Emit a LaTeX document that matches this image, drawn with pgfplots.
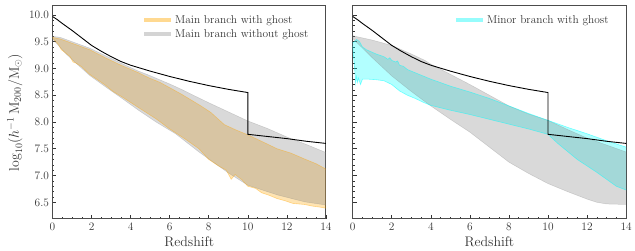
\documentclass[border=0pt]{standalone}
\usepackage{fontspec}
\usepackage{pgfplots}
\pgfplotsset{compat=1.18}
\usepgfplotslibrary{fillbetween}

\definecolor{mplorange}{RGB}{255,165,0}
\definecolor{mplgray}{RGB}{128,128,128}
\definecolor{mplcyan}{RGB}{0,255,255}
\definecolor{legorange}{RGB}{255,217,145}
\definecolor{leggray}{RGB}{212,212,212}
\definecolor{legcyan}{RGB}{150,252,252}

\begin{document}
\begin{tikzpicture}
\pgfplotsset{
  myaxis/.style={
    scale only axis, width=276pt, height=215pt,
    anchor=south west,
    xmin=0, xmax=14, ymin=6.19, ymax=10.167,
    xtick={0,2,...,14}, minor x tick num=3,
    ytick={6.5,7,7.5,8,8.5,9,9.5,10}, minor y tick num=4,
    xtick pos=left, ytick pos=left,
    tick align=inside,
    major tick length=4pt, minor tick length=2pt,
    every tick/.style={black!80, line width=0.6pt},
    axis line style={black!70, line width=1pt},
    tick label style={font=\fontsize{11.5}{13}\selectfont, text=black!80},
    label style={font=\fontsize{14}{16}\selectfont, text=black!80},
    xlabel={Redshift},
    /pgf/number format/assume math mode=true,
    legend style={draw=none, fill=none, font=\fontsize{11.5}{13}\selectfont, text=black!80,
      at={(axis description cs:0.955,0.975)}, anchor=north east, row sep=1pt},
    legend cell align=left,
    legend image code/.code={\draw[##1] (0pt,0pt) -- (27pt,0pt);},
  },
}
% ---------------- left panel ----------------
\begin{axis}[myaxis, at={(53pt,32pt)},
  yticklabels={6.5,7.0,7.5,8.0,8.5,9.0,9.5,10.0},
  ylabel={$\log_{10}(h^{-1}\,\mathrm{M}_{200}/\mathrm{M}_{\odot})$}]
\addlegendimage{legorange, line width=4pt}
\addlegendentry{Main branch with ghost}
\addlegendimage{leggray, line width=4pt}
\addlegendentry{Main branch without ghost}

\addplot[forget plot, name path=OU, draw=none] coordinates {
(0,9.58)(0.4,9.55)(1,9.47)(1.9,9.35)(2.7,9.2)(3.5,9.06)(4.4,8.92)(4.9,8.83)(5.5,8.74)(6.6,8.52)(7.6,8.3)(8.1,8.18)(8.8,7.95)(9.4,7.85)(10,7.76)(10.7,7.64)(11.5,7.5)(12.2,7.42)(12.9,7.31)(13.5,7.22)(14,7.12)};
\addplot[forget plot, name path=OL, draw=none] coordinates {
(0,9.57)(0.3,9.45)(0.45,9.35)(0.7,9.28)(0.9,9.22)(1.05,9.12)(1.2,9.1)(1.5,9.03)(1.9,8.89)(2.7,8.69)(3.1,8.57)(3.6,8.46)(4.4,8.27)(5.3,8.06)(6,7.87)(6.8,7.68)(7.5,7.5)(8,7.3)(8.5,7.18)(8.9,7.1)(9.15,6.93)(9.35,7.02)(9.7,6.92)(10,6.8)(10.4,6.76)(10.7,6.68)(11.1,6.63)(11.5,6.57)(11.9,6.53)(12.3,6.48)(12.9,6.46)(13.3,6.43)(13.7,6.41)(14,6.39)};
\addplot[forget plot, fill=mplorange, fill opacity=0.3, draw=none] fill between[of=OU and OL];

\addplot[forget plot, name path=GU, draw=mplgray, draw opacity=0.3, line width=0.5pt] coordinates {
(0,9.6)(0.4,9.58)(1,9.5)(1.9,9.38)(2.7,9.24)(3.5,9.1)(4.4,8.95)(4.9,8.88)(6,8.71)(6.6,8.61)(7.6,8.43)(8,8.36)(9,8.19)(10,8.02)(11,7.88)(12,7.72)(13,7.58)(14,7.43)};
\addplot[forget plot, name path=GL, draw=mplgray, draw opacity=0.3, line width=0.5pt] coordinates {
(0,9.55)(0.7,9.27)(1.2,9.1)(1.9,8.87)(2.7,8.66)(3.6,8.43)(4.4,8.22)(5.3,8.0)(6.3,7.78)(7.5,7.44)(8,7.31)(9,7.05)(10,6.82)(11,6.7)(11.5,6.64)(12.9,6.51)(14,6.45)};
\addplot[forget plot, fill=mplgray, fill opacity=0.3, draw=none] fill between[of=GU and GL];

\addplot[forget plot, draw=mplorange, draw opacity=0.4, line width=0.6pt] coordinates {
(0,9.58)(0.4,9.55)(1,9.47)(1.9,9.35)(2.7,9.2)(3.5,9.06)(4.4,8.92)(4.9,8.83)(5.5,8.74)(6.6,8.52)(7.6,8.3)(8.1,8.18)(8.8,7.95)(9.4,7.85)(10,7.76)(10.7,7.64)(11.5,7.5)(12.2,7.42)(12.9,7.31)(13.5,7.22)(14,7.12)};
\addplot[forget plot, draw=mplorange, draw opacity=0.4, line width=0.6pt] coordinates {
(0,9.57)(0.3,9.45)(0.45,9.35)(0.7,9.28)(0.9,9.22)(1.05,9.12)(1.2,9.1)(1.5,9.03)(1.9,8.89)(2.7,8.69)(3.1,8.57)(3.6,8.46)(4.4,8.27)(5.3,8.06)(6,7.87)(6.8,7.68)(7.5,7.5)(8,7.3)(8.5,7.18)(8.9,7.1)(9.15,6.93)(9.35,7.02)(9.7,6.92)(10,6.8)(10.4,6.76)(10.7,6.68)(11.1,6.63)(11.5,6.57)(11.9,6.53)(12.3,6.48)(12.9,6.46)(13.3,6.43)(13.7,6.41)(14,6.39)};

\addplot[forget plot, black, line width=0.9pt] coordinates {
(0,9.97)(0.25,9.91)(0.5,9.84)(1,9.71)(1.5,9.57)(2,9.43)(2.5,9.32)(3,9.22)(3.5,9.13)(4,9.06)(5,8.95)(6,8.85)(7,8.76)(8,8.68)(9,8.61)(10,8.55)(10,7.77)(11,7.73)(12,7.69)(13,7.64)(14,7.6)};
\end{axis}

% ---------------- right panel ----------------
\begin{axis}[myaxis, at={(356pt,32pt)}, yticklabels={}]
\addlegendimage{legcyan, line width=4pt}
\addlegendentry{Minor branch with ghost}

\addplot[forget plot, name path=CU, draw=none] coordinates {
(0,9.48)(0.1,9.5)(0.2,9.54)(0.35,9.5)(0.5,9.4)(0.7,9.35)(1.2,9.27)(1.6,9.22)(1.8,9.17)(1.9,9.2)(2,9.15)(2.2,9.12)(2.3,9.14)(2.4,9.06)(2.6,9.04)(2.8,8.98)(3.2,8.92)(3.6,8.86)(4,8.8)(5,8.67)(6,8.56)(7,8.44)(8,8.3)(9,8.16)(10,8.03)(11,7.9)(12,7.78)(13,7.65)(14,7.53)};
\addplot[forget plot, name path=CL, draw=none] coordinates {
(0,9.42)(0.05,9.2)(0.1,9.0)(0.15,8.72)(0.2,8.85)(0.25,8.74)(0.3,8.82)(0.4,8.7)(0.5,8.8)(0.8,8.8)(1.2,8.79)(1.6,8.77)(2,8.7)(2.4,8.58)(2.8,8.5)(3.2,8.44)(3.6,8.37)(4,8.31)(5,8.22)(6,8.14)(7,8.05)(8,7.96)(9,7.87)(10,7.77)(10.5,7.6)(11,7.45)(11.5,7.3)(12,7.18)(12.5,7.06)(13,6.93)(13.5,6.8)(14,6.73)};
\addplot[forget plot, fill=mplcyan, fill opacity=0.3, draw=none] fill between[of=CU and CL];

\addplot[forget plot, name path=RGU, draw=mplgray, draw opacity=0.3, line width=0.5pt] coordinates {
(0,9.61)(1,9.53)(2,9.43)(3,9.27)(3.7,9.15)(4,9.08)(5,8.89)(6,8.7)(7,8.5)(8,8.3)(9,8.15)(10,8.03)(11,7.86)(12,7.7)(13,7.57)(14,7.44)};
\addplot[forget plot, name path=RGL, draw=mplgray, draw opacity=0.3, line width=0.5pt] coordinates {
(0,9.56)(1,9.2)(2,8.86)(3,8.57)(4,8.3)(5,8.05)(6,7.81)(7,7.53)(8,7.25)(9,7.04)(10,6.85)(11,6.7)(12,6.56)(12.5,6.5)(13,6.47)(14,6.46)};
\addplot[forget plot, fill=mplgray, fill opacity=0.3, draw=none] fill between[of=RGU and RGL];

\addplot[forget plot, draw=mplcyan, draw opacity=0.5, line width=0.6pt] coordinates {
(0,9.48)(0.1,9.5)(0.2,9.54)(0.35,9.5)(0.5,9.4)(0.7,9.35)(1.2,9.27)(1.6,9.22)(1.8,9.17)(1.9,9.2)(2,9.15)(2.2,9.12)(2.3,9.14)(2.4,9.06)(2.6,9.04)(2.8,8.98)(3.2,8.92)(3.6,8.86)(4,8.8)(5,8.67)(6,8.56)(7,8.44)(8,8.3)(9,8.16)(10,8.03)(11,7.9)(12,7.78)(13,7.65)(14,7.53)};
\addplot[forget plot, draw=mplcyan, draw opacity=0.5, line width=0.6pt] coordinates {
(0,9.42)(0.05,9.2)(0.1,9.0)(0.15,8.72)(0.2,8.85)(0.25,8.74)(0.3,8.82)(0.4,8.7)(0.5,8.8)(0.8,8.8)(1.2,8.79)(1.6,8.77)(2,8.7)(2.4,8.58)(2.8,8.5)(3.2,8.44)(3.6,8.37)(4,8.31)(5,8.22)(6,8.14)(7,8.05)(8,7.96)(9,7.87)(10,7.77)(10.5,7.6)(11,7.45)(11.5,7.3)(12,7.18)(12.5,7.06)(13,6.93)(13.5,6.8)(14,6.73)};

\addplot[forget plot, black, line width=0.9pt] coordinates {
(0,9.97)(0.25,9.91)(0.5,9.84)(1,9.71)(1.5,9.57)(2,9.43)(2.5,9.32)(3,9.22)(3.5,9.13)(4,9.06)(5,8.95)(6,8.85)(7,8.76)(8,8.68)(9,8.61)(10,8.55)(10,7.77)(11,7.73)(12,7.69)(13,7.64)(14,7.6)};
\end{axis}
\path (0pt,0pt) rectangle (635pt,253pt);
\end{tikzpicture}
\end{document}
